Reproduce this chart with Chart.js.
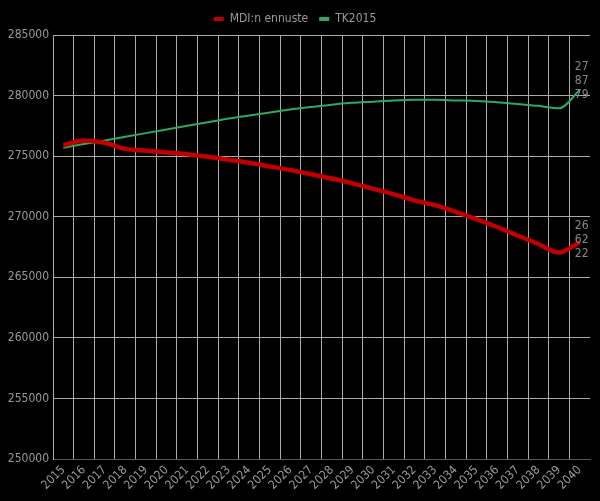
<!DOCTYPE html>
<html>
<head>
<meta charset="utf-8">
<script src="https://cdn.jsdelivr.net/npm/chart.js@4"></script>
<style>
  html, body { margin: 0; padding: 0; background: #000; }
  #wrap { width: 600px; height: 501px; }
</style>
</head>
<body>
<div id="wrap"><canvas id="c"></canvas></div>
<script>
const vuodet = ['2015','2016','2017','2018','2019','2020','2021','2022','2023','2024','2025','2026','2027',
  '2028','2029','2030','2031','2032','2033','2034','2035','2036','2037','2038','2039','2040'];
const mdiEnnuste = [275900, 276300, 276100, 275600, 275450, 275300, 275150, 274950, 274700, 274450, 274150,
  273850, 273500, 273150, 272750, 272300, 271850, 271350, 270950, 270400, 269800, 269150, 268450, 267750,
  267050, 267900];
const tk2015 = [275700, 276000, 276300, 276600, 276900, 277200, 277500, 277800, 278100, 278350, 278600,
  278850, 279050, 279250, 279400, 279500, 279600, 279650, 279650, 279600, 279550, 279450, 279300, 279150,
  278950, 280450];
// loppuarvojen tekstit, katkottu kuten kuvassa
const mdiTeksti = ['26', '62', '22'];
const tkTeksti = ['27', '87', '79'];

const fontti = '"DejaVu Sans Condensed", "DejaVu Sans", sans-serif';

const tausta = {
  id: 'tausta',
  beforeDraw(chart) {
    const c = chart.ctx;
    c.save();
    c.fillStyle = '#000';
    c.fillRect(0, 0, chart.width, chart.height);
    c.restore();
  }
};

const loppuTekstit = {
  id: 'loppuTekstit',
  afterDatasetsDraw(chart) {
    const c = chart.ctx;
    c.save();
    c.font = '12px ' + fontti;
    c.fillStyle = '#888';
    c.textAlign = 'center';
    c.textBaseline = 'middle';
    chart.data.datasets.forEach((ds, i) => {
      const meta = chart.getDatasetMeta(i);
      const p = meta.data[meta.data.length - 1];
      const r = i === 0 ? mdiTeksti : tkTeksti;
      const alku = i === 0 ? p.y - 16 : p.y - 23;
      r.forEach((t, k) => c.fillText(t, p.x + 2, alku + k * 14));
    });
    c.restore();
  }
};

new Chart(document.getElementById('c'), {
  type: 'line',
  data: {
    labels: vuodet,
    datasets: [
      { label: 'MDI:n ennuste', data: mdiEnnuste, borderColor: '#c00000', backgroundColor: '#c00000',
        borderWidth: 4.5, pointRadius: 0, cubicInterpolationMode: 'monotone' },
      { label: 'TK2015', data: tk2015, borderColor: '#2ea862', backgroundColor: '#2ea862',
        borderWidth: 2, pointRadius: 0, cubicInterpolationMode: 'monotone' }
    ]
  },
  options: {
    responsive: true,
    maintainAspectRatio: false,
    animation: false,
    layout: { padding: { left: 0, right: 10, top: 2, bottom: 0 } },
    plugins: {
      legend: {
        position: 'top',
        labels: {
          color: '#999', font: { family: fontti, size: 12 }, boxWidth: 10, boxHeight: 4, padding: 11,
          generateLabels(chart) {
            return Chart.defaults.plugins.legend.labels.generateLabels(chart).map(l => ({ ...l, lineWidth: 0 }));
          }
        }
      },
      tooltip: { enabled: false }
    },
    scales: {
      x: {
        offset: true,
        grid: { offset: true, color: ctx => ctx.type === 'tick' ? '#aaa' : 'rgba(0,0,0,0)', drawTicks: false },
        border: { color: '#555' },
        ticks: { color: '#999', font: { family: fontti, size: 12 }, maxRotation: 45, minRotation: 45, autoSkip: false, padding: 4 },
        afterFit(s) { s.height = 42; }
      },
      y: {
        min: 250000, max: 285000,
        grid: { color: '#aaa', drawTicks: false },
        border: { color: '#aaa' },
        ticks: { stepSize: 5000, color: '#999', font: { family: fontti, size: 12 }, padding: 4,
          callback: v => String(v) },
        afterFit(s) { s.width = 53; }
      }
    }
  },
  plugins: [tausta, loppuTekstit]
});
</script>
</body>
</html>
